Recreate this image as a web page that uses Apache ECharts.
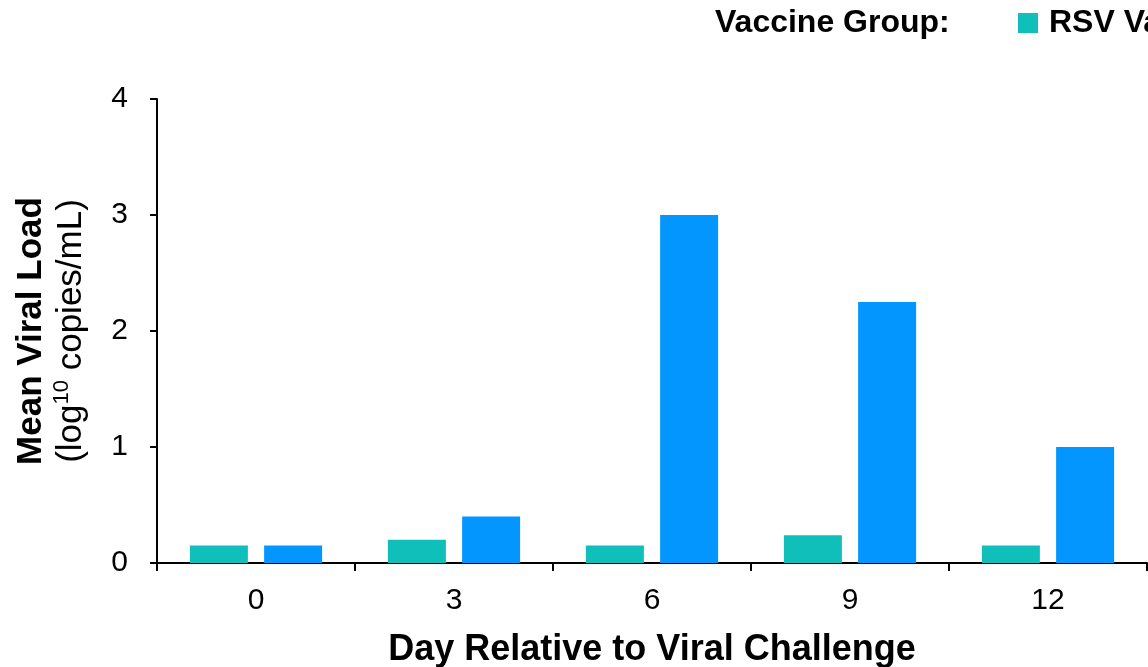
<!DOCTYPE html>
<html>
<head>
<meta charset="utf-8">
<script src="https://cdn.jsdelivr.net/npm/echarts@6/dist/echarts.min.js"></script>
<style>
  html, body { margin: 0; padding: 0; background: #fff; overflow: hidden; }
  #chart { width: 1148px; height: 667px; }
</style>
</head>
<body>
<div id="chart"></div>
<script>
// 数据
const days = ['0', '3', '6', '9', '12'];
const rsvVaccine = [0.15, 0.2, 0.15, 0.24, 0.15];
const placebo = [0.15, 0.4, 3.0, 2.25, 1.0];
const yTicks = [0, 1, 2, 3, 4];

const FONT = '"Liberation Sans", Arial, sans-serif';

const chart = echarts.init(document.getElementById('chart'));

const option = {
  animation: false,
  textStyle: { fontFamily: FONT },
  // 关闭 v6 的自动收缩，让网格固定在参考图位置
  grid: { left: 157, right: 1, top: 99, bottom: 104, containLabel: false, outerBoundsMode: 'none' },
  graphic: [{
    type: 'text',
    left: 715,
    top: 7,
    style: { text: 'Vaccine Group:', font: 'bold 32px ' + FONT, fill: '#000' }
  }],
  legend: {
    left: 1013,
    top: 2,
    width: 1200,
    orient: 'horizontal',
    itemWidth: 20,
    itemHeight: 20,
    itemGap: 40,
    icon: 'rect',
    textStyle: { fontSize: 32, fontWeight: 'bold', color: '#000', lineHeight: 32, padding: [0, 0, 0, 6] },
    data: ['RSV Vaccine', 'Placebo']
  },
  xAxis: {
    type: 'category',
    data: days,
    name: 'Day Relative to Viral Challenge',
    nameLocation: 'middle',
    nameGap: 69,
    nameTextStyle: { fontSize: 36, fontWeight: 'bold', color: '#000' },
    axisLine: { lineStyle: { color: '#000', width: 2 } },
    axisTick: { show: true, length: 8, lineStyle: { color: '#000', width: 2 } },
    axisLabel: { fontSize: 30, color: '#000', margin: 23 }
  },
  yAxis: {
    type: 'value',
    min: yTicks[0],
    max: yTicks[yTicks.length - 1],
    interval: 1,
    name: '{b|Mean Viral Load}\n{n|(log}{s|10}{n| copies/mL)}',
    nameLocation: 'middle',
    nameRotate: 90,
    nameGap: 66,
    nameTextStyle: {
      color: '#000',
      rich: {
        b: { fontSize: 35, fontWeight: 'bold', color: '#000', lineHeight: 40 },
        n: { fontSize: 35, color: '#000', lineHeight: 40 },
        s: { fontSize: 22, color: '#000', verticalAlign: 'top', padding: [0, 0, 15, 0], lineHeight: 40 }
      }
    },
    axisLine: { show: true, lineStyle: { color: '#000', width: 2 } },
    axisTick: { show: true, length: 7, lineStyle: { color: '#000', width: 2 } },
    axisLabel: { fontSize: 30, color: '#000', margin: 29 },
    splitLine: { show: false }
  },
  series: [
    {
      name: 'RSV Vaccine',
      type: 'bar',
      data: rsvVaccine,
      barWidth: 58,
      barGap: '28%',
      itemStyle: { color: '#10BEBA' }
    },
    {
      name: 'Placebo',
      type: 'bar',
      data: placebo,
      barWidth: 58,
      barGap: '28%',
      itemStyle: { color: '#0396FF' }
    }
  ]
};

chart.setOption(option);
</script>
</body>
</html>
